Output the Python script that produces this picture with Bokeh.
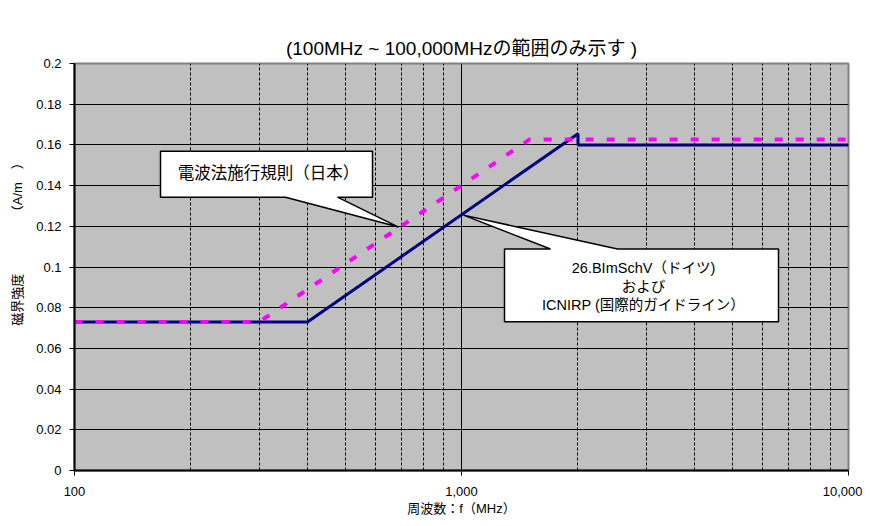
from bokeh.plotting import figure
from bokeh.models import Range1d, FixedTicker
from bokeh.core.properties import value
from bokeh.embed import file_html
from bokeh.resources import INLINE

# ---- data ----
freq_icnirp = [100, 400, 2000, 2000, 10000]
h_icnirp = [0.073, 0.073, 0.1655, 0.16, 0.16]
freq_japan = [100, 300, 1500, 10000]
h_japan = [0.073, 0.073, 0.1627, 0.1627]

x_ticks = [100, 1000, 10000]
x_tick_labels = ["100", "1,000", "10,000"]
x_minor = [200, 300, 400, 500, 600, 700, 800, 900,
           2000, 3000, 4000, 5000, 6000, 7000, 8000, 9000]
y_ticks = [0, 0.02, 0.04, 0.06, 0.08, 0.1, 0.12, 0.14, 0.16, 0.18, 0.2]
y_tick_labels = ["0", "0.02", "0.04", "0.06", "0.08", "0.1", "0.12", "0.14",
                 "0.16", "0.18", "0.2"]

title_text = "(100MHz ~ 100,000MHzの範囲のみ示す )"
x_label = "周波数：f（MHz）"
y_label = "　　　　磁界強度　　　　 （A/m　）"
callout1_text = "電波法施行規則（日本）"
callout2_lines = ["26.BImSchV（ドイツ)", "および", "ICNIRP (国際的ガイドライン）"]

FONT = "Liberation Sans, Arial, Noto Sans CJK JP"

# frame geometry in page pixels (used for annotation placement)
FL, FR, FT, FB = 74, 848, 63, 471


def px_x(px):
    return 10 ** (2 + 2.0 * (px - FL) / (FR - FL))


def px_y(py):
    return (FB - py) / (FB - FT) * 0.2


W, H = 862, 518
p = figure(width=W, height=H, x_axis_type="log",
           x_range=Range1d(100, 10000), y_range=Range1d(0, 0.2),
           output_backend="svg", toolbar_location=None,
           min_border_left=FL, min_border_right=W - FR,
           min_border_top=FT, min_border_bottom=H - FB)

p.title.text = title_text
p.title.align = "center"
p.title.offset = -6
p.title.text_font = FONT
p.title.text_font_size = "19px"
p.title.text_font_style = "normal"
p.title.text_color = "black"
p.title.standoff = 10

p.background_fill_color = "#C0C0C0"
p.border_fill_color = "white"
p.outline_line_color = "#808080"
p.outline_line_width = 2

# axes
p.xaxis.ticker = FixedTicker(ticks=x_ticks, minor_ticks=x_minor)
p.xaxis.major_label_overrides = {t: l for t, l in zip(x_ticks, x_tick_labels)}
p.yaxis.ticker = FixedTicker(ticks=y_ticks)
p.yaxis.major_label_overrides = {t: l for t, l in zip(y_ticks, y_tick_labels)}
for ax in (p.xaxis, p.yaxis):
    ax.axis_line_color = "black"
    ax.axis_line_width = 2
    ax.major_tick_line_color = "black"
    ax.major_tick_out = 5
    ax.major_tick_in = 0
    ax.minor_tick_line_color = None
    ax.major_label_text_font = FONT
    ax.major_label_text_font_size = "13px"
    ax.major_label_text_color = "black"
    ax.axis_label_text_font = FONT
    ax.axis_label_text_font_size = "13px"
    ax.axis_label_text_font_style = "normal"
    ax.axis_label_text_color = "black"
p.xaxis.major_label_standoff = 11
p.yaxis.major_label_standoff = 8
p.xaxis.axis_label = x_label
p.xaxis.axis_label_standoff = 2
p.yaxis.axis_label = y_label
p.yaxis.axis_label_standoff = 8

# grids
p.ygrid.grid_line_color = "black"
p.ygrid.grid_line_width = 1
p.xgrid.grid_line_color = "black"
p.xgrid.grid_line_width = 1
p.xgrid.minor_grid_line_color = "black"
p.xgrid.minor_grid_line_dash = "3 2"
p.xgrid.minor_grid_line_width = 1

# lines
p.line(freq_icnirp, h_icnirp, line_color="#000080", line_width=3)
p.line(freq_japan, h_japan, line_color="#FF00FF", line_width=4,
       line_dash="8 13")

# callout 1
c1 = [(160, 151), (372, 151), (372, 197), (337, 197), (398, 227),
      (285, 197), (160, 197)]
p.patch([px_x(a) for a, b in c1], [px_y(b) for a, b in c1],
        fill_color="white", line_color="black", line_width=1.5)
p.text(x=[px_x(268)], y=[px_y(173)], text=[callout1_text],
       text_font=value(FONT), text_font_size="16.5px", text_color="black",
       text_align="center", text_baseline="middle")

# callout 2
c2 = [(504, 249), (550, 249), (463, 215), (617, 249), (778, 249),
      (778, 322), (504, 322)]
p.patch([px_x(a) for a, b in c2], [px_y(b) for a, b in c2],
        fill_color="white", line_color="black", line_width=1.5)
p.text(x=[px_x(643)] * 3, y=[px_y(268), px_y(287), px_y(305)],
       text=callout2_lines,
       text_font=value(FONT), text_font_size="14.5px", text_color="black",
       text_align="center", text_baseline="middle")

open("out.html", "w").write(file_html(p, INLINE))
